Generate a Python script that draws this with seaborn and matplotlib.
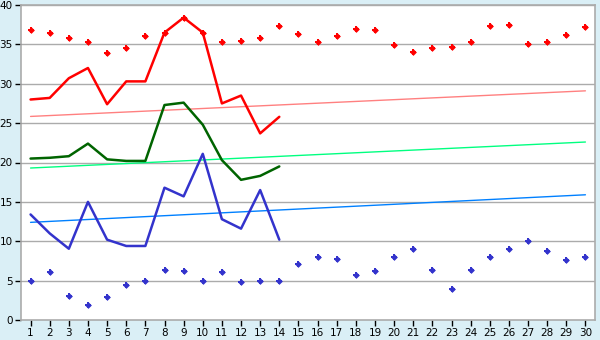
import matplotlib
matplotlib.use("Agg")
import matplotlib.pyplot as plt
import seaborn as sns
import pandas as pd

days = list(range(1, 31))
line_days = list(range(1, 15))

max_line = [28.0, 28.2, 30.7, 32.0, 27.4, 30.3, 30.3, 36.5, 38.4, 36.5, 27.5, 28.5, 23.7, 25.8]
mean_line = [20.5, 20.6, 20.8, 22.4, 20.4, 20.2, 20.2, 27.3, 27.6, 24.8, 20.3, 17.8, 18.3, 19.5]
min_line = [13.4, 11.0, 9.05, 15.0, 10.2, 9.4, 9.4, 16.8, 15.7, 21.1, 12.8, 11.6, 16.5, 10.2]

max_dots = [36.8, 36.4, 35.8, 35.3, 33.9, 34.6, 36.1, 36.5, 38.4, 36.5,
            35.3, 35.4, 35.8, 37.3, 36.3, 35.3, 36.1, 37.0, 36.8, 34.9,
            34.0, 34.6, 34.7, 35.3, 37.3, 37.4, 35.0, 35.3, 36.2, 37.2]
min_dots = [5.0, 6.05, 3.0, 1.9, 2.9, 4.5, 5.0, 6.4, 6.2, 5.0,
            6.05, 4.8, 5.0, 5.0, 7.1, 8.0, 7.8, 5.7, 6.2, 8.0,
            9.0, 6.3, 4.0, 6.3, 8.0, 9.0, 10.0, 8.7, 7.6, 8.0]

trend_days = [1, 30]
max_trend = [25.85, 29.1]
mean_trend = [19.3, 22.6]
min_trend = [12.4, 15.9]

y_ticks = [0, 5, 10, 15, 20, 25, 30, 35, 40]

sns.set_theme(style="white")
plt.rcParams['font.family'] = ['DejaVu Sans']

fig = plt.figure(figsize=(6, 3.4), dpi=100)
fig.patch.set_facecolor("#DAEFF6")
ax = fig.add_axes([21 / 600, 20 / 340, 574 / 600, 315 / 340])
ax.set_facecolor("white")

for yv in y_ticks[1:]:
    ax.axhline(yv, color="#ABABAB", lw=1.0, zorder=0)

sns.lineplot(x=trend_days, y=max_trend, color="#FF8080", lw=1.0, ax=ax)
sns.lineplot(x=trend_days, y=mean_trend, color="#00FF80", lw=1.0, ax=ax)
sns.lineplot(x=trend_days, y=min_trend, color="#0080FF", lw=1.0, ax=ax)

sns.lineplot(x=line_days, y=max_line, color="#FF0000", lw=1.8, ax=ax)
sns.lineplot(x=line_days, y=mean_line, color="#006400", lw=1.8, ax=ax)
sns.lineplot(x=line_days, y=min_line, color="#3333CC", lw=1.8, ax=ax)

for dots, col in [(max_dots, "#FF0000"), (min_dots, "#3333CC")]:
    sns.scatterplot(x=days, y=dots, color=col, marker="P", s=24, linewidth=0, ax=ax, zorder=5)
    sns.scatterplot(x=days, y=dots, color=col, marker="D", s=12, linewidth=0, ax=ax, zorder=5)

ax.set_xlim(0.5, 30.5)
ax.set_ylim(0, 40)
ax.set_xticks(days)
ax.set_xticklabels([str(d) for d in days])
ax.set_yticks(y_ticks)
ax.tick_params(axis="both", labelsize=7.5, colors="black", length=4, width=1, direction="out",
               bottom=True, left=True, pad=2)
for side in ["top", "right", "left", "bottom"]:
    ax.spines[side].set_visible(True)
    ax.spines[side].set_color("#ABABAB")
    ax.spines[side].set_linewidth(1.2)
ax.set_xlabel("")
ax.set_ylabel("")

fig.savefig("out.png", dpi=100, facecolor=fig.get_facecolor())
